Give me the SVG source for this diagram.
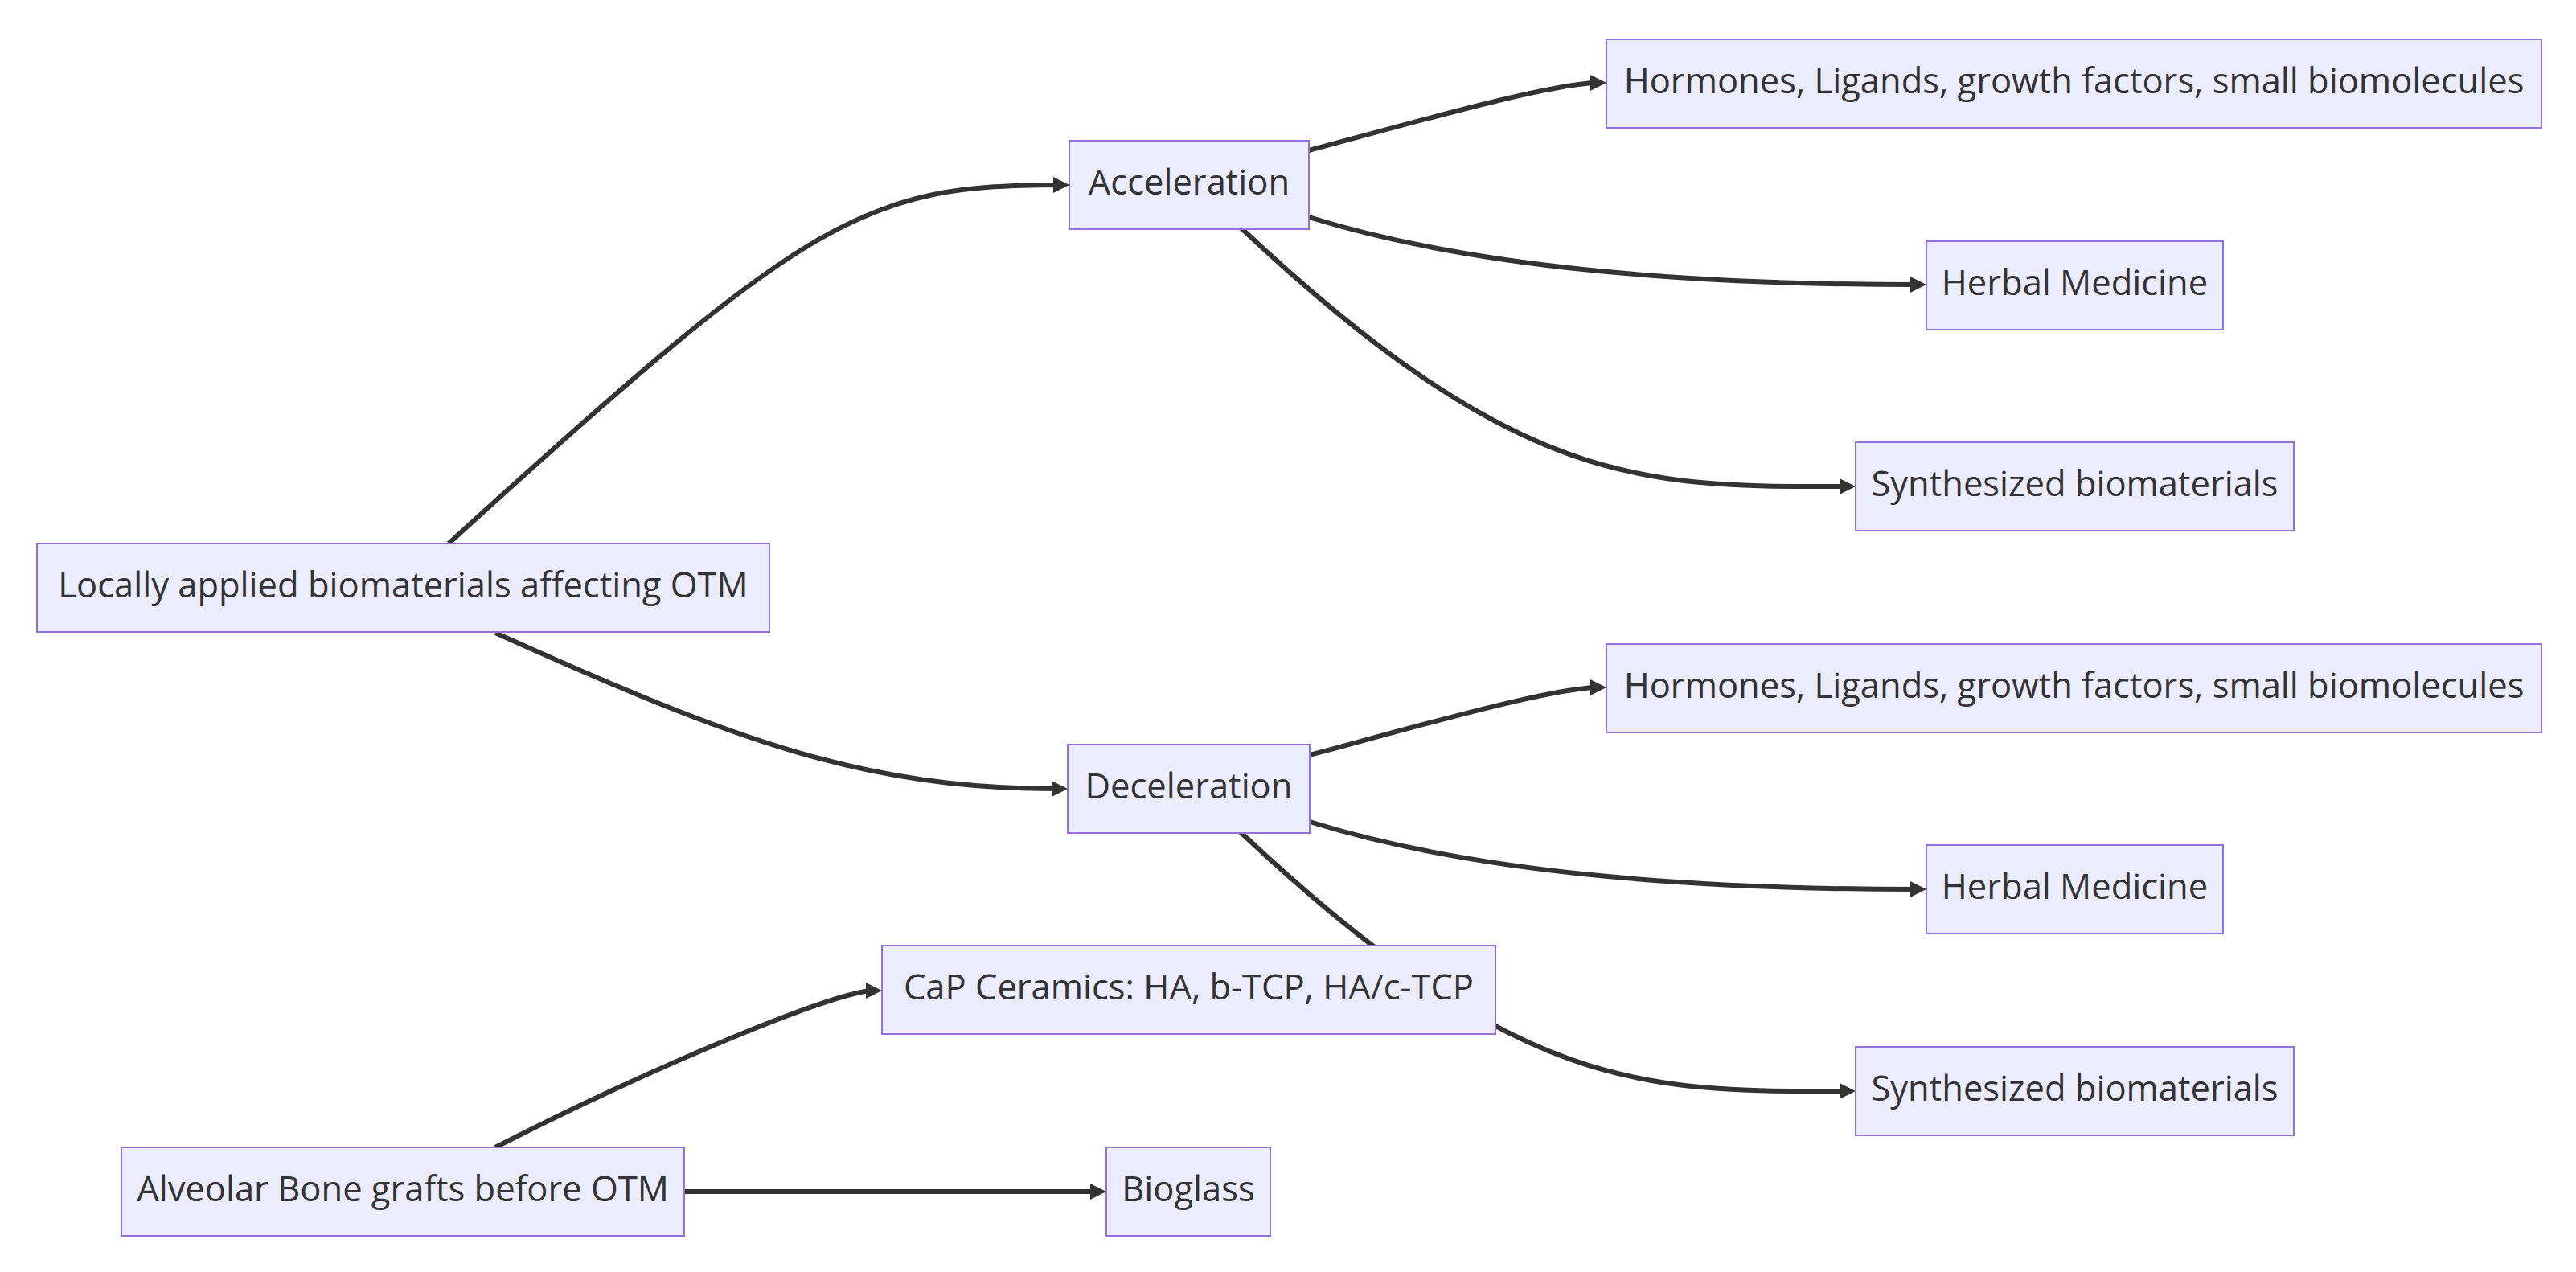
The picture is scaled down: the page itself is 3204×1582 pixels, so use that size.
<svg xmlns="http://www.w3.org/2000/svg" width="3204" height="1582" viewBox="0 0 3204 1582">
  <style>
    .node rect { fill: #ECECFF; stroke: #9370DB; stroke-width: 2; }
    .node text { fill: #333333; font-family: "Open Sans", "Liberation Sans", sans-serif; font-size: 43.5px; text-anchor: middle; }
    .edge { fill: none; stroke: #333333; stroke-width: 6; marker-end: url(#arrow); }
  </style>
  <defs>
    <marker id="arrow" markerUnits="userSpaceOnUse" markerWidth="20" markerHeight="20" refX="10" refY="10" orient="auto">
      <path d="M0,0 L20,10 L0,20 z" fill="#333333"/>
    </marker>
  </defs>
  <rect width="3204" height="1582" fill="#FFFFFF"/>

  <!-- connectors (drawn under the nodes) -->
  <g id="connectors">
    <path id="e-local-accel" class="edge" d="M558,676 C1008,266 1075,230 1320,230"/>
    <path id="e-local-decel" class="edge" d="M616,787 C916,922 1075,981 1318,981"/>
    <path id="e-accel-horm" class="edge" d="M1628,187 C1748,155 1930,103 1988,103"/>
    <path id="e-accel-herb" class="edge" d="M1628,270 C1828,332 2090,354 2386,354"/>
    <path id="e-accel-synth" class="edge" d="M1543,283 C1893,612 2050,605 2298,605"/>
    <path id="e-decel-horm" class="edge" d="M1629,939 C1749,907 1930,855 1988,855"/>
    <path id="e-decel-herb" class="edge" d="M1629,1022 C1829,1084 2090,1106 2386,1106"/>
    <path id="e-decel-synth" class="edge" d="M1543,1035 C1893,1364 2050,1357 2298,1357"/>
    <path id="e-graft-cap" class="edge" d="M616,1427 C816,1325 1040,1232 1087,1232"/>
    <path id="e-graft-glass" class="edge" d="M851,1482 L1366,1482"/>
  </g>

  <!-- nodes -->
  <g id="n-local" class="node">
    <rect x="46" y="676" width="911" height="110"/>
    <text x="501.5" y="743">Locally applied biomaterials affecting OTM</text>
  </g>
  <g id="n-accel" class="node">
    <rect x="1330" y="175" width="298" height="110"/>
    <text x="1479" y="242">Acceleration</text>
  </g>
  <g id="n-decel" class="node">
    <rect x="1328" y="926" width="301" height="110"/>
    <text x="1478.5" y="993">Deceleration</text>
  </g>
  <g id="n-horm-a" class="node">
    <rect x="1998" y="49" width="1163" height="110"/>
    <text x="2579.5" y="116">Hormones, Ligands, growth factors, small biomolecules</text>
  </g>
  <g id="n-herb-a" class="node">
    <rect x="2396" y="300" width="369" height="110"/>
    <text x="2580.5" y="367">Herbal Medicine</text>
  </g>
  <g id="n-synth-a" class="node">
    <rect x="2308" y="550" width="545" height="110"/>
    <text x="2580.5" y="617">Synthesized biomaterials</text>
  </g>
  <g id="n-horm-d" class="node">
    <rect x="1998" y="801" width="1163" height="110"/>
    <text x="2579.5" y="868">Hormones, Ligands, growth factors, small biomolecules</text>
  </g>
  <g id="n-herb-d" class="node">
    <rect x="2396" y="1051" width="369" height="110"/>
    <text x="2580.5" y="1118">Herbal Medicine</text>
  </g>
  <g id="n-cap" class="node">
    <rect x="1097" y="1176" width="763" height="110"/>
    <text x="1478.5" y="1243">CaP Ceramics: HA, b-TCP, HA/c-TCP</text>
  </g>
  <g id="n-synth-d" class="node">
    <rect x="2308" y="1302" width="545" height="110"/>
    <text x="2580.5" y="1369">Synthesized biomaterials</text>
  </g>
  <g id="n-graft" class="node">
    <rect x="151" y="1427" width="700" height="110"/>
    <text x="501" y="1494">Alveolar Bone grafts before OTM</text>
  </g>
  <g id="n-glass" class="node">
    <rect x="1376" y="1427" width="204" height="110"/>
    <text x="1478" y="1494">Bioglass</text>
  </g>
</svg>
